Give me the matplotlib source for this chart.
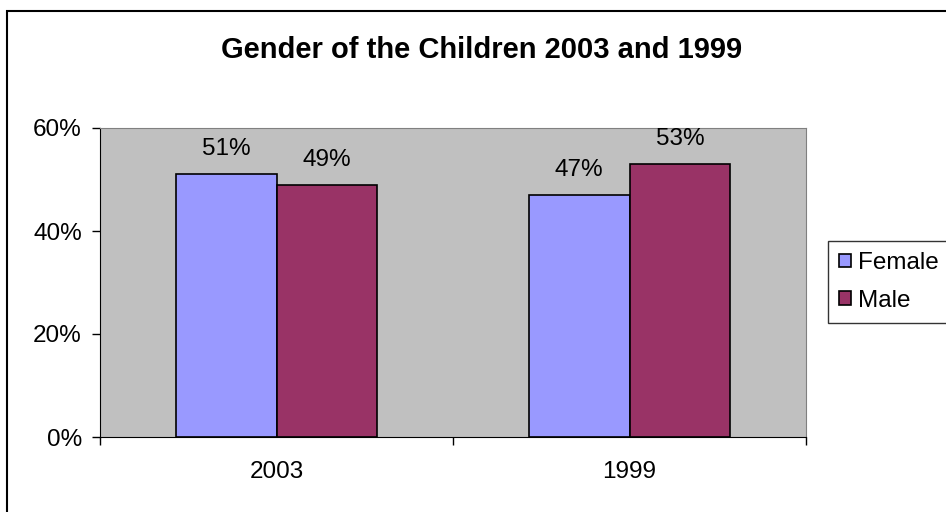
import matplotlib.pyplot as plt
import numpy as np
from matplotlib.patches import Rectangle
from matplotlib.ticker import PercentFormatter

plt.rcParams['font.family'] = ['Liberation Sans', 'DejaVu Sans']

# Data
years = ['2003', '1999']
female = [51, 47]
male = [49, 53]

fig = plt.figure(figsize=(9.46, 5.12), dpi=100)
W, H = 946, 512

# outer chart border (only left and top edges show)
fig.patches.append(Rectangle((7 / W, -0.1), 1.2, 1.1 - 11 / H, transform=fig.transFigure,
                             fill=False, edgecolor='black', linewidth=1.5))

ax = fig.add_axes([100 / W, (H - 437) / H, 706 / W, 309 / H])
ax.set_facecolor('#C0C0C0')

x = np.arange(len(years))
w = 1 / 3.5  # Excel gap width 150%
b1 = ax.bar(x - w / 2, female, w, color='#9999FF', edgecolor='black', linewidth=1.2, label='Female')
b2 = ax.bar(x + w / 2, male, w, color='#993366', edgecolor='black', linewidth=1.2, label='Male')

for bars in (b1, b2):
    ax.bar_label(bars, labels=[f'{v}%' for v in bars.datavalues], padding=10, fontsize=17.5)

ax.set_xlim(-0.5, len(years) - 0.5)
ax.set_ylim(0, 60)
ax.set_yticks([0, 20, 40, 60])
ax.yaxis.set_major_formatter(PercentFormatter(decimals=0))

# category boundaries as ticks, labels in the middle
ax.set_xticks(np.arange(len(years) + 1) - 0.5)
ax.set_xticklabels([])
ax.set_xticks(x, minor=True)
ax.set_xticklabels(years, minor=True)
ax.tick_params(axis='x', which='major', direction='out', length=6, width=1)
ax.tick_params(axis='x', which='minor', length=0, pad=17, labelsize=17.5)
ax.tick_params(axis='y', direction='out', length=6, width=1, pad=7, labelsize=17.5)

for s in ('top', 'right'):
    ax.spines[s].set_color('#808080')
for s in ('left', 'bottom'):
    ax.spines[s].set_color('black')

fig.text(482 / W, 1 - 50 / H, 'Gender of the Children 2003 and 1999', ha='center', va='center',
         fontsize=21, fontweight='bold')

leg = fig.legend(loc='center left', bbox_to_anchor=(828 / W, 1 - 282 / H), fontsize=17.5,
                 frameon=True, fancybox=False, edgecolor='black', handlelength=0.5,
                 handleheight=0.5, handletextpad=0.3, borderpad=0.45, labelspacing=0.65,
                 borderaxespad=0)
leg.get_frame().set_linewidth(1)

fig.savefig('out.png', dpi=100)
